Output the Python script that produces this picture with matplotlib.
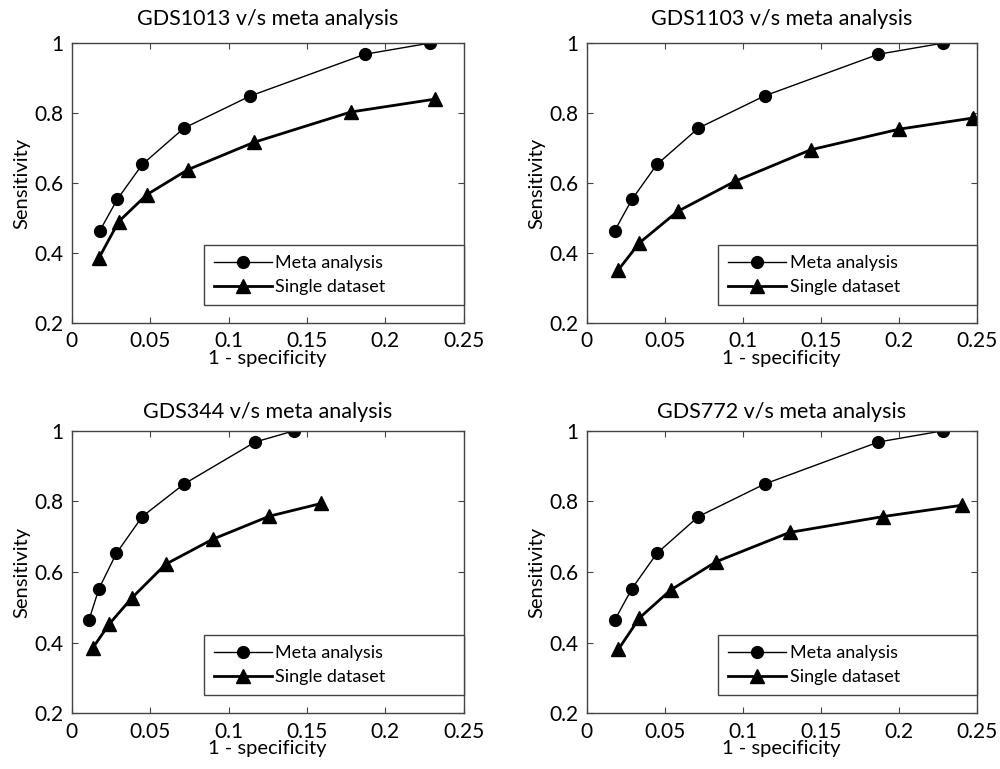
import matplotlib
matplotlib.use('Agg')
import matplotlib.pyplot as plt

plt.rcParams['font.family'] = ['Lato', 'DejaVu Sans']

# meta analysis ROC points (shared by the panels, GDS344 has its own x)
meta_fpr = [0.018, 0.029, 0.045, 0.0716, 0.114, 0.187, 0.2286]
meta_tpr = [0.464, 0.553, 0.653, 0.757, 0.849, 0.968, 1.0]
meta_fpr_344 = [0.011, 0.0174, 0.0285, 0.045, 0.0716, 0.117, 0.142]

# single dataset ROC points
gds1013_fpr = [0.0174, 0.030, 0.048, 0.074, 0.116, 0.178, 0.232]
gds1013_tpr = [0.386, 0.49, 0.567, 0.638, 0.716, 0.803, 0.840]
gds1103_fpr = [0.0203, 0.0338, 0.0583, 0.0951, 0.1436, 0.2004, 0.2479]
gds1103_tpr = [0.352, 0.429, 0.519, 0.605, 0.695, 0.754, 0.786]
gds344_fpr = [0.0136, 0.0238, 0.0382, 0.0599, 0.090, 0.126, 0.159]
gds344_tpr = [0.386, 0.452, 0.526, 0.622, 0.693, 0.758, 0.794]
gds772_fpr = [0.0203, 0.0338, 0.0538, 0.0829, 0.130, 0.190, 0.2404]
gds772_tpr = [0.381, 0.47, 0.549, 0.629, 0.712, 0.757, 0.789]

panels = [
    ('GDS1013 v/s meta analysis', meta_fpr, gds1013_fpr, gds1013_tpr),
    ('GDS1103 v/s meta analysis', meta_fpr, gds1103_fpr, gds1103_tpr),
    ('GDS344 v/s meta analysis', meta_fpr_344, gds344_fpr, gds344_tpr),
    ('GDS772 v/s meta analysis', meta_fpr, gds772_fpr, gds772_tpr),
]

positions = [
    [0.0717, 0.580, 0.392, 0.364],
    [0.5867, 0.580, 0.390, 0.364],
    [0.0717, 0.0724, 0.392, 0.3675],
    [0.5867, 0.0724, 0.390, 0.3675],
]
title_pads = [13, 13, 9.5, 9.5]

fig = plt.figure(figsize=(10, 7.69), dpi=100)

for (title, mx, sx, sy), pos, tpad in zip(panels, positions, title_pads):
    ax = fig.add_axes(pos)
    ax.plot(mx, meta_tpr, 'o-', color='black', lw=1.0, ms=8.5, label='Meta analysis')
    ax.plot(sx, sy, '^-', color='black', lw=2.0, ms=10, label='Single dataset')
    ax.set_xlim(0, 0.25)
    ax.set_ylim(0.2, 1.0)
    ax.set_xticks([0, 0.05, 0.1, 0.15, 0.2, 0.25])
    ax.set_xticklabels(['0', '0.05', '0.1', '0.15', '0.2', '0.25'])
    ax.set_yticks([0.2, 0.4, 0.6, 0.8, 1.0])
    ax.set_yticklabels(['0.2', '0.4', '0.6', '0.8', '1'])
    ax.tick_params(direction='in', top=True, right=True, length=4,
                   labelsize=15, color='#444444', pad=6)
    for sp in ax.spines.values():
        sp.set_color('#444444')
        sp.set_linewidth(1.0)
    ax.set_title(title, fontsize=15.5, pad=tpad)
    ax.set_xlabel('1 - specificity', fontsize=14.5, labelpad=-1)
    ax.set_ylabel('Sensitivity', fontsize=14.5, labelpad=3)
    leg = ax.legend(loc='lower left', bbox_to_anchor=(0.3375, 0.064, 0.6625, 0.215),
                    mode='expand', borderaxespad=0, fancybox=False,
                    edgecolor='#444444', fontsize=13, handlelength=3.2,
                    handletextpad=0.2, labelspacing=0.45, borderpad=0.55,
                    framealpha=1)
    leg.get_frame().set_linewidth(1.0)

fig.savefig('out.png', dpi=100)
